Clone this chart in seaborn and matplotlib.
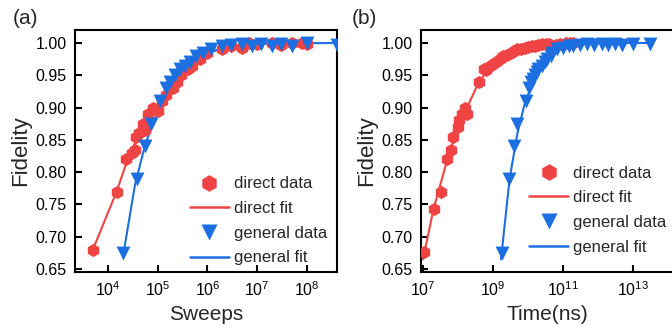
import numpy as np
import pandas as pd
import matplotlib
matplotlib.use("Agg")
import matplotlib.pyplot as plt
import seaborn as sns
from matplotlib.lines import Line2D

# --- data ---
# (a) fidelity vs sweeps
a_direct_x = [5e3, 1.5e4, 2.3e4, 3e4, 3.5e4, 3.6e4, 4.2e4, 5e4, 5.5e4, 6.5e4, 8e4, 1e5,
              1.2e5, 1.5e5, 2e5, 2.5e5, 3e5, 4e5, 5e5, 7e5, 1e6, 2e6, 3e6, 5e6, 7e6,
              1e7, 2e7, 3e7, 5e7, 8e7, 1e8]
a_direct_y = [0.68, 0.77, 0.82, 0.83, 0.835, 0.855, 0.86, 0.875, 0.865, 0.89, 0.90, 0.895,
              0.91, 0.92, 0.93, 0.94, 0.95, 0.96, 0.965, 0.975, 0.985, 0.99, 0.995, 0.993,
              1.0, 0.998, 1.0, 0.997, 1.0, 1.0, 0.998]
a_direct_fit_x = [5e3, 1.5e4, 2.5e4, 4e4, 6e4, 1e5, 2e5, 4e5, 1e6, 3e6, 1e7, 1e8]
a_direct_fit_y = [0.68, 0.77, 0.82, 0.855, 0.88, 0.905, 0.935, 0.96, 0.985, 0.995, 0.999, 1.0]

a_general_x = [2e4, 3.8e4, 5.5e4, 7.5e4, 1.1e5, 1.5e5, 1.8e5, 2.2e5, 2.8e5, 3.5e5, 4.5e5,
               6e5, 8e5, 1.2e6, 2e6, 3e6, 5e6, 8e6, 1.2e7, 2e7, 3e7, 5e7, 1e8, 4e8]
a_general_y = [0.675, 0.79, 0.84, 0.875, 0.91, 0.93, 0.94, 0.95, 0.96, 0.965, 0.97,
               0.98, 0.985, 0.99, 0.995, 0.997, 0.998, 0.995, 0.998, 0.995, 0.998, 0.996, 1.0, 0.997]
a_general_fit_x = [2e4, 3.5e4, 5.5e4, 8e4, 1.2e5, 2e5, 4e5, 8e5, 2e6, 1e7, 4e8]
a_general_fit_y = [0.668, 0.78, 0.84, 0.875, 0.905, 0.94, 0.965, 0.98, 0.993, 0.999, 1.0]

# (b) fidelity vs time (ns)
b_direct_x = [1.07e7, 2e7, 3.2e7, 5e7, 6.3e7, 7e7, 1e8, 1.1e8, 1.3e8, 1.6e8, 1.8e8,
              4e8, 5.6e8, 6.5e8, 8e8, 1e9, 1.26e9, 1.6e9, 2e9, 2.5e9, 3.2e9, 4e9, 5e9,
              6.3e9, 8e9, 1e10, 1.3e10, 1.6e10, 2e10, 2.5e10, 3.2e10, 4e10,
              6.3e10, 8e10, 1.26e11, 1.6e11, 2e11]
b_direct_y = [0.676, 0.743, 0.77, 0.82, 0.835, 0.855, 0.87, 0.88, 0.89, 0.90, 0.89,
              0.94, 0.96, 0.958, 0.965, 0.968, 0.97, 0.975, 0.98, 0.982, 0.985, 0.987, 0.99,
              0.99, 0.993, 0.994, 0.995, 0.996, 0.997, 0.998, 0.998, 0.999,
              0.997, 0.998, 1.0, 1.0, 1.0]
b_direct_fit_x = [1e7, 2e7, 5e7, 1e8, 2e8, 4e8, 1e9, 3e9, 1e10, 3e10, 1e11, 2e11]
b_direct_fit_y = [0.665, 0.743, 0.82, 0.87, 0.905, 0.94, 0.968, 0.984, 0.994, 0.998, 1.0, 1.0]

b_general_x = [1.8e9, 2.9e9, 4e9, 5e9, 8.7e9, 1.1e10, 1.26e10, 1.4e10, 1.6e10, 1.8e10,
               2e10, 2.5e10, 3e10, 3.5e10, 4.5e10, 5e10, 7e10, 1e11, 1.5e11, 2e11, 3e11,
               5e11, 8e11, 1.3e12, 2e12, 3e12, 5e12, 1e13, 3e13]
b_general_y = [0.675, 0.79, 0.84, 0.875, 0.91, 0.93, 0.94, 0.945, 0.95, 0.955,
               0.96, 0.965, 0.97, 0.975, 0.98, 0.985, 0.99, 0.993, 0.995, 0.996, 0.997,
               0.998, 0.997, 0.998, 0.997, 0.998, 0.997, 0.998, 0.999]
b_general_fit_x = [1.7e9, 3e9, 5e9, 8e9, 1.5e10, 3e10, 6e10, 1.5e11, 1e12, 3e13]
b_general_fit_y = [0.665, 0.79, 0.86, 0.905, 0.945, 0.975, 0.99, 0.997, 1.0, 1.0]

red = "#f04444"
blue = "#1c6fe0"

sns.set_style("ticks")
plt.rcParams["font.family"] = ["Liberation Sans", "DejaVu Sans"]
plt.rcParams["axes.linewidth"] = 1.5

fig = plt.figure(figsize=(6.72, 3.28), dpi=100)
ax_a = fig.add_axes([75 / 672, 56 / 328, 262 / 672, 242 / 328])
ax_b = fig.add_axes([421 / 672, 56 / 328, 252 / 672, 242 / 328])

panels = [
    (ax_a, a_direct_x, a_direct_y, a_direct_fit_x, a_direct_fit_y,
     a_general_x, a_general_y, a_general_fit_x, a_general_fit_y),
    (ax_b, b_direct_x, b_direct_y, b_direct_fit_x, b_direct_fit_y,
     b_general_x, b_general_y, b_general_fit_x, b_general_fit_y),
]

for ax, dx, dy, dfx, dfy, gx, gy, gfx, gfy in panels:
    sns.lineplot(x=dfx, y=dfy, ax=ax, color=red, lw=1.5, sort=False)
    sns.scatterplot(x=dx, y=dy, ax=ax, color=red, marker="h", s=90, linewidth=0, zorder=3)
    sns.lineplot(x=gfx, y=gfy, ax=ax, color=blue, lw=1.5, sort=False)
    sns.scatterplot(x=gx, y=gy, ax=ax, color=blue, marker="v", s=100, linewidth=0, zorder=4)
    ax.set_xscale("log")
    ax.set_ylim(0.6454, 1.0201)
    ax.set_yticks(np.arange(0.65, 1.001, 0.05))
    ax.set_yticklabels([f"{v:.2f}" for v in np.arange(0.65, 1.001, 0.05)])
    ax.minorticks_off()
    ax.tick_params(direction="in", length=5, width=1.5, labelsize=11.5, pad=6, colors="black")
    ax.set_ylabel("Fidelity", fontsize=16, labelpad=3)
    for s in ax.spines.values():
        s.set_color("black")
        s.set_linewidth(1.5)
    handles = [
        Line2D([], [], ls="none", marker="h", ms=12, color=red, mec="none"),
        Line2D([], [], color=red, lw=1.8),
        Line2D([], [], ls="none", marker="v", ms=12, color=blue, mec="none"),
        Line2D([], [], color=blue, lw=1.8),
    ]
    ax.legend(handles, ["direct data", "direct fit", "general data", "general fit"],
              frameon=False, fontsize=12, loc="upper left", handlelength=2.3,
              handletextpad=0.3, labelspacing=0.58, borderpad=0, borderaxespad=0)

ax_a.set_xlim(10 ** 3.34, 10 ** 8.603)
ax_a.set_xticks([1e4, 1e5, 1e6, 1e7, 1e8])
ax_a.minorticks_off()
ax_a.set_xlabel("Sweeps", fontsize=15, labelpad=4)
ax_a.legend_.set_bbox_to_anchor((0.44, 0.395), transform=ax_a.transAxes)

ax_b.set_xlim(10 ** 6.943, 10 ** 14.148)
ax_b.set_xticks([1e7, 1e9, 1e11, 1e13])
ax_b.minorticks_off()
ax_b.set_xlabel("Time(ns)", fontsize=15, labelpad=4)
ax_b.legend_.set_bbox_to_anchor((0.43, 0.44), transform=ax_b.transAxes)

fig.text(25 / 672, 1 - 18 / 328, "(a)", fontsize=15, ha="center", va="center")
fig.text(364 / 672, 1 - 18 / 328, "(b)", fontsize=15, ha="center", va="center")

fig.savefig("out.png", dpi=100)
